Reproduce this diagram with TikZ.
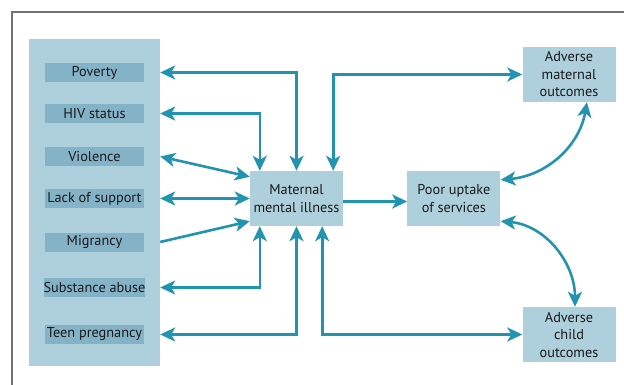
\documentclass[tikz,border=0pt]{standalone}
\usepackage{fontspec}
\setmainfont{PT Sans}
\usepackage{xcolor}
\usetikzlibrary{arrows.meta,positioning,calc}
\definecolor{panelblue}{RGB}{174, 208, 220}
\definecolor{itemblue}{RGB}{132, 178, 198}
\definecolor{arrowteal}{RGB}{35, 148, 176}
\definecolor{framegray}{RGB}{112, 112, 112}
\definecolor{textdark}{RGB}{26, 26, 26}

\begin{document}
\begin{tikzpicture}[
    x=1pt, y=-1pt,
    panel/.style={rectangle, fill=panelblue, inner sep=0pt, minimum width=131pt, minimum height=327pt},
    item/.style={rectangle, fill=itemblue, inner sep=0pt, minimum width=99pt, minimum height=19pt, font=\fontsize{14.3}{16}\selectfont, text=textdark},
    box/.style={rectangle, fill=panelblue, inner sep=0pt, minimum width=93pt, minimum height=55pt, align=center, font=\fontsize{14.3}{17.5}\selectfont, text=textdark},
    arrow/.style={-{Stealth[length=15pt, width=14pt, inset=4pt]}, line width=2.6pt, draw=arrowteal},
    biarrow/.style={{Stealth[length=15pt, width=14pt, inset=4pt]}-{Stealth[length=15pt, width=14pt, inset=4pt]}, line width=2.6pt, draw=arrowteal}
]
    \useasboundingbox (0,0) rectangle (624,385);

    % Frame
    \draw[framegray, line width=1.5pt] (12,385) -- (12,12) -- (624,12);

    % Risk factors
    \node[panel] (factors) at (94.5,202.5) {};
    \node[item] (pov)   at (94.5,72.5)  {Poverty};
    \node[item] (hiv)   at (94.5,113.5) {HIV status};
    \node[item] (viol)  at (94.5,156.5) {Violence};
    \node[item] (lack)  at (94.5,198.5) {Lack of support};
    \node[item] (migr)  at (94.5,242)   {Migrancy};
    \node[item] (subst) at (94.5,287.5) {Substance abuse};
    \node[item] (teen)  at (94.5,334.5) {Teen pregnancy};

    % Central boxes
    \node[box] (mmi) at (296.5,198.5) {Maternal\\mental illness};
    \node[box, right=64pt of mmi] (uptake) {Poor uptake\\of services};

    % Outcomes
    \node[box] (advmat)   at (569,74.5) {Adverse\\maternal\\outcomes};
    \node[box] (advchild) at (569,334.5) {Adverse\\child\\outcomes};

    % Arrows from factors
    \draw[biarrow] (pov -| factors.east) -| (mmi.north);
    \draw[biarrow] (hiv -| factors.east) -| ([xshift=10pt]mmi.north west);
    \draw[biarrow] (viol -| factors.east) -- ([yshift=-6pt]mmi.north west);
    \draw[biarrow] (lack -| factors.east) -- (lack -| mmi.west);
    \draw[arrow] (migr -| factors.east) -- ([yshift=5pt]mmi.south west);
    \draw[biarrow] (subst -| factors.east) -| ([xshift=10pt]mmi.south west);
    \draw[biarrow] (teen -| factors.east) -| (mmi.south);

    % Arrows to outcomes
    \draw[biarrow] ([xshift=-10pt]mmi.north east) |- (advmat.west);
    \draw[biarrow] ([xshift=-21pt]mmi.south east) |- (advchild.west);
    \draw[arrow] ([yshift=-3pt]mmi.east) -- ([yshift=-3pt]uptake.west);
    \draw[biarrow] ([yshift=-9pt]uptake.north east) to[out=5, in=-100] ([xshift=18pt]advmat.south);
    \draw[biarrow] ([yshift=5pt]uptake.south east) to[out=-5, in=90] ([xshift=6pt]advchild.north);

\end{tikzpicture}
\end{document}
